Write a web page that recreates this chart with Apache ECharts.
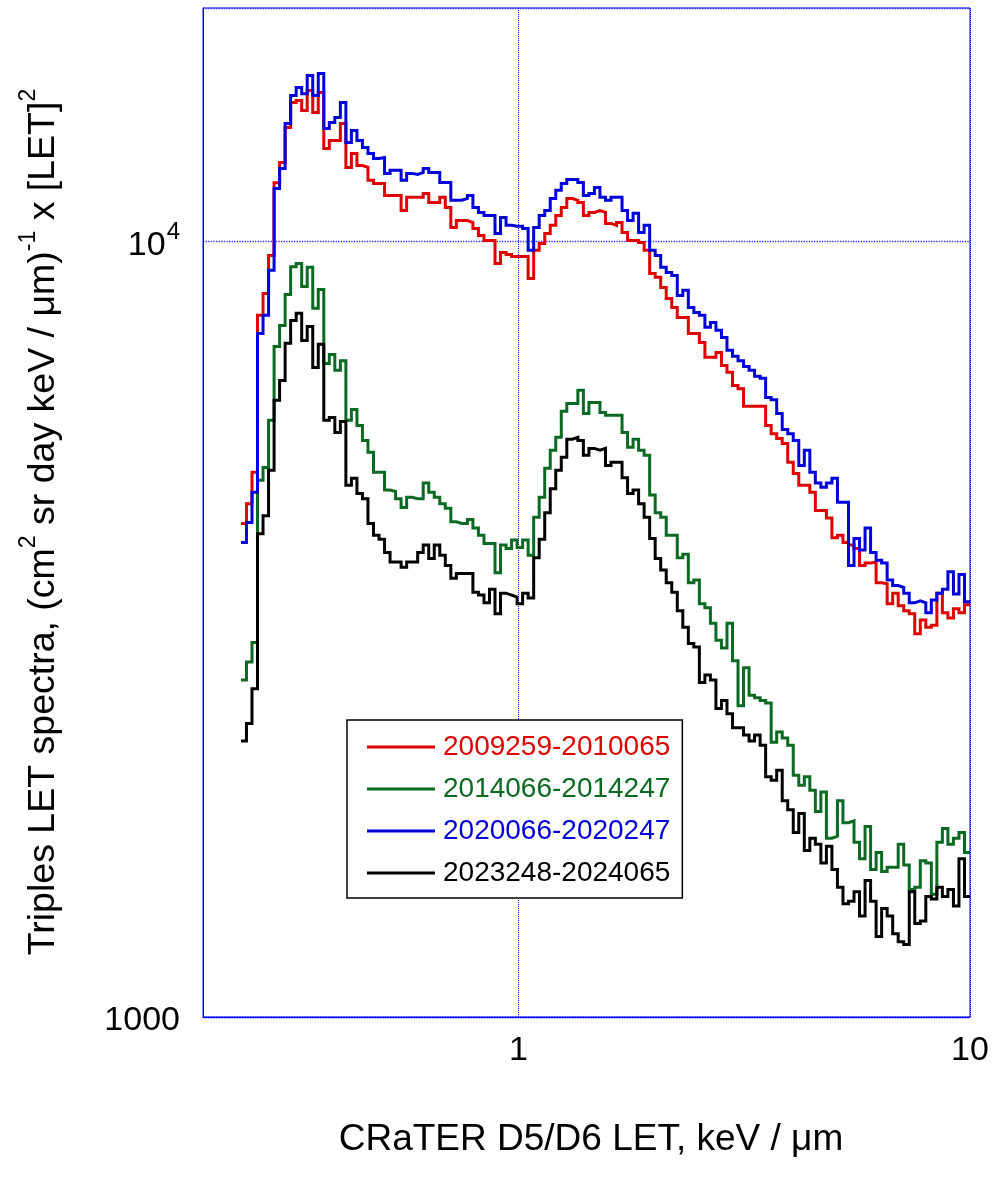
<!DOCTYPE html>
<html><head><meta charset="utf-8">
<script src="https://cdn.jsdelivr.net/npm/echarts@6/dist/echarts.min.js"></script>
<style>html,body{margin:0;padding:0;background:#fff}#c{width:994px;height:1190px}</style>
</head><body><div id="c"></div>
<script>
// ---- data ----
const SERIES_NAMES = ['2009259-2010065', '2014066-2014247', '2020066-2020247', '2023248-2024065'];
const SERIES_COLORS = ['#e00000', '#0b6a22', '#0000dc', '#000000'];
// LET histogram bins: 132 log-uniform bins between these edges (keV/um)
const LET_FIRST_EDGE = 0.2427;
const LET_LAST_EDGE = 10;
const N_BINS = 132;
const X_TICKS = [1, 10];
const Y_TICKS = [1000, 10000];

const red = [
 4330, 4590, 5040, 8030, 8570, 9590, 11900, 12640, 14030, 15110,
 15200, 14750, 15650, 14660, 15560, 13180, 13500, 13500, 14190, 12460,
 12980, 12530, 12460, 11990, 11880, 11880, 11460, 11460, 11460, 10960,
 11400, 11400, 11400, 11530, 11230, 11230, 11400, 11060, 10420, 10640,
 10640, 10580, 10390, 10180, 10030, 10030, 9370, 9680, 9620, 9560,
 9560, 9560, 8960, 9740, 9940, 10240, 10490, 10800, 11060, 11360,
 11300, 11230, 10800, 10900, 10960, 10900, 10550, 10490, 10580, 10270,
 10030, 10030, 9970, 9740, 9090, 8990, 8720, 8440, 8220, 7980,
 7980, 7610, 7610, 7410, 7090, 7090, 7190, 6920, 6780, 6520,
 6460, 6130, 6130, 6130, 6130, 5790, 5650, 5570, 5490, 5190,
 5020, 4850, 4850, 4750, 4500, 4500, 4400, 4150, 4180, 4090,
 4060, 4020, 3820, 3850, 3860, 3630, 3620, 3410, 3520, 3390,
 3340, 3310, 3120, 3250, 3180, 3200, 3520, 3320, 3270, 3360,
 3320, 3400
];
const green = [
 2720, 2870, 3040, 4920, 5110, 5880, 7320, 7790, 8540, 9280,
 9370, 8750, 9260, 8200, 8670, 6960, 7150, 6820, 7020, 5880,
 6070, 5790, 5540, 5350, 5040, 5040, 4780, 4760, 4660, 4540,
 4680, 4660, 4660, 4880, 4750, 4680, 4590, 4530, 4350, 4330,
 4330, 4380, 4270, 4180, 4080, 4080, 3740, 4060, 4020, 4120,
 4030, 4120, 3940, 4410, 4680, 5100, 5380, 5590, 6040, 6180,
 6180, 6430, 6000, 6200, 6200, 6020, 5970, 5970, 5970, 5670,
 5430, 5560, 5380, 5300, 4710, 4470, 4410, 4180, 4180, 3910,
 3950, 3630, 3660, 3410, 3370, 3220, 3060, 2990, 3220, 2880,
 2520, 2820, 2600, 2580, 2560, 2540, 2260, 2330, 2290, 2240,
 2050, 1990, 2040, 1960, 1840, 1950, 1700, 1710, 1900, 1780,
 1790, 1680, 1600, 1760, 1550, 1630, 1540, 1560, 1560, 1670,
 1570, 1460, 1470, 1590, 1580, 1440, 1680, 1750, 1670, 1700,
 1730, 1630
];
const blue = [
 4090, 4340, 4750, 7610, 8030, 9180, 11700, 12420, 14190, 15420,
 15790, 15510, 16370, 15420, 16460, 13980, 14240, 14450, 15110, 13420,
 13900, 13500, 13220, 12980, 12790, 12830, 12240, 12350, 12350, 11990,
 12240, 12200, 12270, 12420, 12270, 12270, 11910, 11910, 11300, 11300,
 11360, 11460, 11060, 10900, 10800, 10800, 10240, 10740, 10490, 10460,
 10460, 10390, 9740, 10420, 10800, 10960, 11360, 11640, 11880, 12020,
 12020, 11910, 11460, 11530, 11740, 11400, 11300, 11400, 11400, 10960,
 10640, 10870, 10270, 10490, 9740, 9590, 9260, 9120, 9040, 8520,
 8650, 8220, 8100, 8030, 7750, 7860, 7680, 7520, 7240, 7110,
 7020, 6900, 6820, 6700, 6660, 6290, 6250, 6000, 5720, 5650,
 5540, 5140, 5380, 5040, 4880, 4820, 4880, 4950, 4610, 4610,
 3820, 4140, 4000, 4270, 3970, 3880, 3850, 3660, 3600, 3580,
 3520, 3420, 3440, 3420, 3320, 3450, 3520, 3560, 3750, 3510,
 3720, 3430
];
const black = [
 2270, 2390, 2650, 4200, 4430, 5070, 6240, 6620, 7390, 7910,
 8080, 7450, 7770, 6880, 7370, 5880, 5930, 5670, 5860, 4850,
 4950, 4730, 4660, 4330, 4180, 4130, 3970, 3860, 3860, 3800,
 3860, 3860, 3970, 4060, 3900, 4060, 3940, 3820, 3680, 3730,
 3730, 3730, 3530, 3500, 3420, 3560, 3310, 3520, 3500, 3480,
 3410, 3520, 3470, 3910, 4130, 4470, 4800, 5070, 5270, 5560,
 5590, 5540, 5300, 5410, 5380, 5410, 5140, 5190, 5190, 4960,
 4730, 4780, 4590, 4410, 4140, 3900, 3770, 3630, 3530, 3340,
 3180, 3030, 3000, 2700, 2760, 2720, 2500, 2560, 2460, 2360,
 2360, 2310, 2270, 2310, 2240, 2040, 2020, 2080, 1900, 1850,
 1730, 1830, 1640, 1700, 1670, 1580, 1660, 1550, 1470, 1400,
 1410, 1450, 1350, 1500, 1410, 1270, 1380, 1350, 1280, 1250,
 1240, 1450, 1320, 1330, 1430, 1420, 1470, 1430, 1460, 1390,
 1600, 1430
];
const SERIES_VALUES = [red, green, blue, black];

// ---- build ----
const lo = Math.log10(LET_FIRST_EDGE), hi = Math.log10(LET_LAST_EDGE);
const edges = [];
for (let k = 0; k <= N_BINS; k++) edges.push(Math.pow(10, lo + (hi - lo) * k / N_BINS));
function stepPairs(vals) {
  const out = [];
  vals.forEach((v, k) => { out.push([edges[k], v]); out.push([edges[k + 1], v]); });
  return out;
}
const FONT = 'Liberation Sans, Arial, Helvetica, sans-serif';
function near(a, b) { return Math.abs(Math.log10(a) - Math.log10(b)) < 1e-6; }

const chart = echarts.init(document.getElementById('c'), null, {renderer: 'canvas'});
chart.setOption({
  animation: false,
  backgroundColor: '#ffffff',
  grid: {left: 203, top: 8, right: 24, bottom: 173, show: true, borderColor: '#0000ff', borderWidth: 1,
         outerBoundsMode: 'none'},
  xAxis: {
    type: 'log', logBase: 10, min: 0.2, max: 10,
    axisLine: {show: true, lineStyle: {color: '#0000ff', width: 1}},
    axisTick: {show: false}, minorTick: {show: false},
    splitLine: {show: true, lineStyle: {color: '#0000ff', width: 1, type: 'dotted'}},
    axisLabel: {
      fontSize: 34, fontFamily: FONT, color: '#000', margin: 17,
      showMinLabel: true, showMaxLabel: true,
      formatter: v => { for (const t of X_TICKS) if (near(v, t)) return String(t); return ''; }
    }
  },
  yAxis: {
    type: 'log', logBase: 10, min: 1000, max: 20000,
    axisLine: {show: true, lineStyle: {color: '#0000ff', width: 1}},
    axisTick: {show: false}, minorTick: {show: false},
    splitLine: {show: true, lineStyle: {color: '#2a2aff', width: 1.3, type: 'dotted'}},
    axisLabel: {
      fontSize: 34, fontFamily: FONT, color: '#000', margin: 23,
      showMinLabel: true, showMaxLabel: true,
      formatter: v => {
        for (const t of Y_TICKS) if (near(v, t)) {
          return t === 10000 ? '{b|10}{s|4}' : '{b|' + t + '}';
        }
        return '';
      },
      rich: {
        b: {fontSize: 34, fontFamily: FONT, color: '#000', lineHeight: 42, verticalAlign: 'bottom'},
        s: {fontSize: 24, fontFamily: FONT, color: '#000', lineHeight: 42, verticalAlign: 'top', padding: [0, 0, 0, 1]}
      }
    }
  },
  legend: {
    orient: 'vertical', left: 347, top: 720,
    data: SERIES_NAMES.map((n, i) => ({name: n, textStyle: {color: SERIES_COLORS[i]}})),
    icon: 'rect', itemWidth: 68, itemHeight: 3, itemGap: 14,
    padding: [13, 12, 11, 20],
    borderColor: '#000', borderWidth: 1.5, backgroundColor: '#fff', borderRadius: 0,
    selectedMode: false,
    textStyle: {fontSize: 28, fontFamily: FONT, lineHeight: 28, padding: [0, 0, 0, 3]}
  },
  graphic: [
    {type: 'text', x: 591, y: 1140, silent: true,
     style: {text: 'CRaTER D5/D6 LET, keV / μm', font: '37px ' + FONT, fill: '#000',
             align: 'center', verticalAlign: 'middle', textAlign: 'center', textVerticalAlign: 'middle'}},
    {type: 'text', x: 40, y: 522, rotation: Math.PI / 2, silent: true,
     style: {
       text: '{a|Triples LET spectra, (cm}{s|2}{a| sr day keV / μm)}{s|-1}{a| x [LET]}{s|2}',
       align: 'center', verticalAlign: 'middle', textAlign: 'center', textVerticalAlign: 'middle',
       rich: {
         a: {fontSize: 37.5, fontFamily: FONT, fill: '#000', color: '#000', lineHeight: 46, verticalAlign: 'bottom'},
         s: {fontSize: 23, fontFamily: FONT, fill: '#000', color: '#000', lineHeight: 46, verticalAlign: 'top'}
       }
     }}
  ],
  series: SERIES_VALUES.map((vals, i) => ({
    name: SERIES_NAMES[i], type: 'line', data: stepPairs(vals),
    showSymbol: false, symbol: 'none', z: 2 + i,
    lineStyle: {color: SERIES_COLORS[i], width: 3, join: 'miter'},
    itemStyle: {color: SERIES_COLORS[i]}
  }))
});
</script>
</body></html>
